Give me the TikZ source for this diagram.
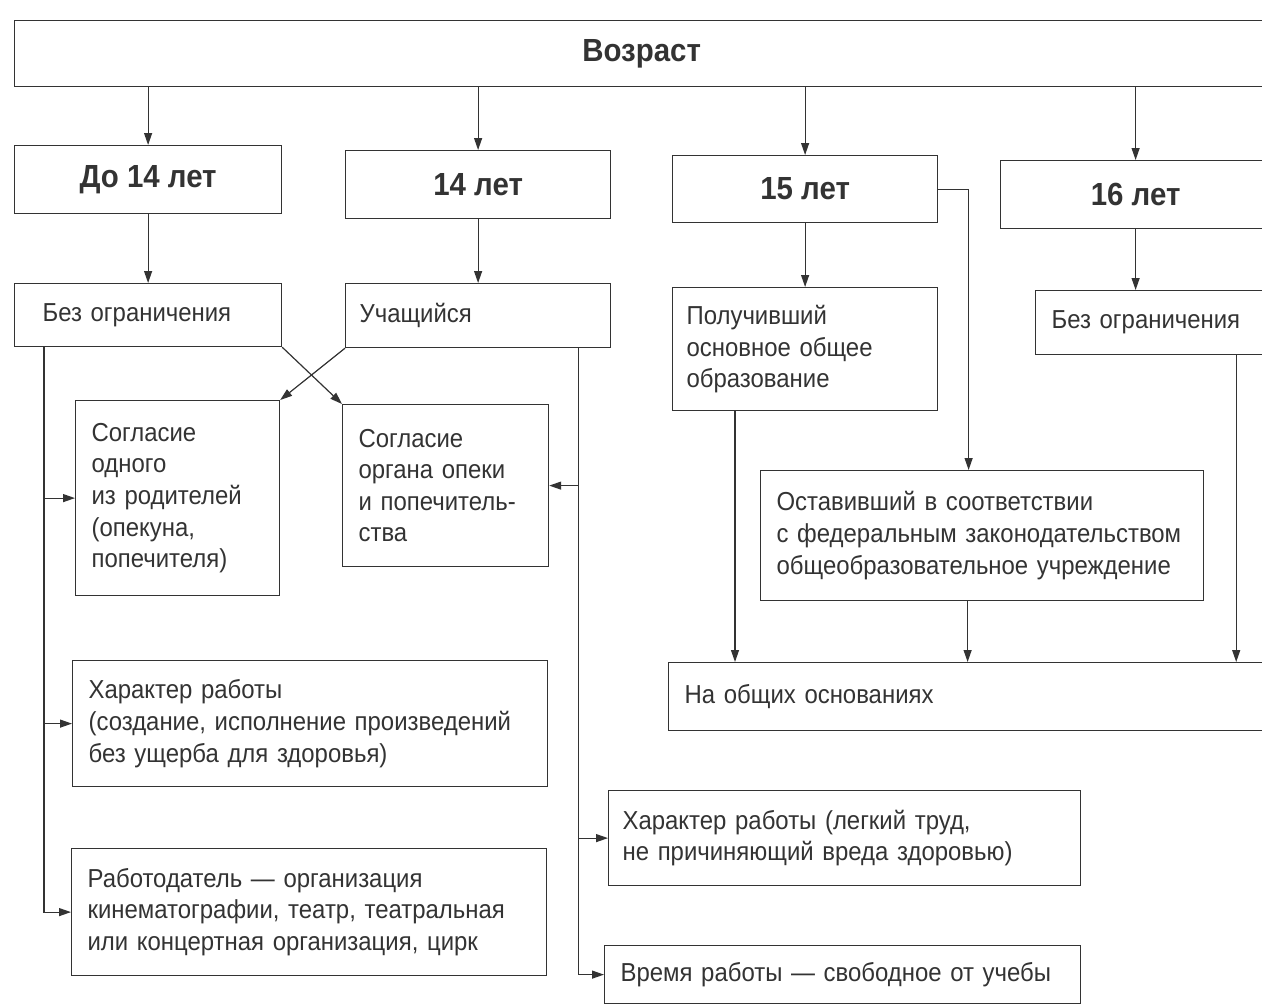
\documentclass[tikz,border=0pt]{standalone}
\usepackage{fontspec}
\setmainfont{Liberation Sans}[FakeStretch=0.92]
\usetikzlibrary{arrows.meta}

\begin{document}
\begin{tikzpicture}[x=0.5pt, y=-0.5pt, line width=0.6pt, color=black!80,
    head/.style={draw, anchor=north west, font=\fontsize{16}{19}\selectfont\bfseries},
    box/.style={draw, anchor=north west, align=left, inner xsep=8pt, font=\fontsize{13}{15.8}\selectfont},
    arr/.style={-{Triangle[length=6pt,width=4pt]}}]
            \useasboundingbox (0,0) rectangle (1262,1006);
            % Nodes
            \node[head, minimum width=627pt, minimum height=33pt] (age) at (14,20) {Возраст};
            \node[head, minimum width=133.5pt, minimum height=34pt] (d14) at (14,145) {До 14 лет};
            \node[head, minimum width=132.5pt, minimum height=34pt] (y14) at (345,150) {14 лет};
            \node[head, minimum width=132.5pt, minimum height=33.5pt] (y15) at (672,155) {15 лет};
            \node[head, minimum width=135pt, minimum height=34pt] (y16) at (1000,160) {16 лет};

            \node[box, inner xsep=14pt, text width=105.5pt, minimum height=31.5pt] (free1) at (14,283) {Без ограничения};
            \node[box, inner xsep=7pt, text width=118.5pt, minimum height=32pt] (stud) at (345,283) {Учащийся};
            \node[box, inner xsep=7pt, text width=118.5pt, minimum height=61.5pt] (basic) at (672,287) {Получивший\\основное общее\\образование};
            \node[box, text width=101.5pt, minimum height=32pt] (free2) at (1035,290) {Без ограничения};

            \node[box, text width=86pt, minimum height=97.5pt] (parent) at (75,400) {Согласие\\одного\\из родителей\\(опекуна,\\попечителя)};
            \node[box, text width=87pt, minimum height=81pt] (guard) at (342,404) {Согласие\\органа опеки\\и попечитель-\\ства};
            \node[box, text width=205.5pt, minimum height=65pt] (left) at (760,470) {Оставивший в соответствии\\с федеральным законодательством\\общеобразовательное учреждение};
            \node[box, text width=286pt, minimum height=34pt] (common) at (668,662) {На общих основаниях};

            \node[box, text width=221.5pt, minimum height=63pt] (art) at (72,660) {Характер работы\\(создание, исполнение произведений\\без ущерба для здоровья)};
            \node[box, text width=221.5pt, minimum height=63.5pt] (empl) at (71,848) {Работодатель — организация\\кинематографии, театр, театральная\\или концертная организация, цирк};
            \node[box, inner xsep=7pt, text width=222pt, minimum height=47.5pt] (light) at (608,790) {Характер работы (легкий труд,\\не причиняющий вреда здоровью)};
            \node[box, text width=222pt, minimum height=29pt] (time) at (604,945) {Время работы — свободное от учебы};

            % Edges
            \draw[arr] (age.south -| d14.north) -- (d14.north);
            \draw[arr] (age.south -| y14.north) -- (y14.north);
            \draw[arr] (age.south -| y15.north) -- (y15.north);
            \draw[arr] (age.south -| y16.north) -- (y16.north);
            \draw[arr] (d14) -- (free1);
            \draw[arr] (y14) -- (stud);
            \draw[arr] (y15) -- (basic);
            \draw[arr] (y16.south) -- (y16.south |- free2.north);
            \draw[arr] (free1.south east) -- (guard.north west);
            \draw[arr] (stud.south west) -- (parent.north east);
            \draw[arr] (y15.east) -| ([xshift=-6.75pt]left.north);

            % left bus
            \draw[arr] ([xshift=15pt]free1.south west) coordinate (lbus) |- (empl.west);
            \draw[arr] (lbus |- parent.west) -- (parent.west);
            \draw[arr] (lbus |- art.west) -- (art.west);

            % right bus
            \draw[arr] ([xshift=-16.5pt]stud.south east) coordinate (rbus) |- (time.west);
            \draw[arr] (rbus |- guard.east) -- (guard.east);
            \draw[arr] (rbus |- light.west) -- (light.west);

            % into common
            \draw[arr] ([xshift=31.5pt]basic.south west) coordinate (c1) -- (c1 |- common.north);
            \draw[arr] ([xshift=-7.25pt]left.south) coordinate (c2) -- (c2 |- common.north);
            \draw[arr] ([xshift=-17.5pt]free2.south east) coordinate (c3) -- (c3 |- common.north);
        \end{tikzpicture}
\end{document}
